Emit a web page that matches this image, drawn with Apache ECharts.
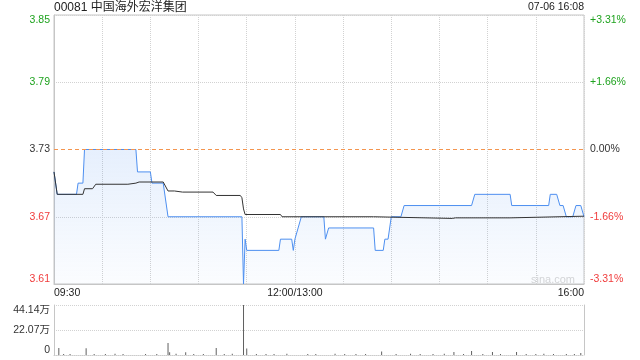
<!DOCTYPE html>
<html><head><meta charset="utf-8">
<script src="https://cdn.jsdelivr.net/npm/echarts@6/dist/echarts.min.js"></script>
<style>html,body{margin:0;padding:0;background:#fff}#c{width:640px;height:360px}</style>
</head><body><div id="c"></div>
<script>
// ---- data ----
const stockTitle = '00081 中国海外宏洋集团';
const stampText = '07-06 16:08';
const prevClose = 3.73;
const sessionTimes = ['09:30','16:00'];
const priceTimes = ['09:30','09:32','09:44','09:45','09:48','09:49','10:21','10:22','10:30','10:31','10:38','10:41','11:27','11:28','11:29','11:30','11:50','11:51','11:58','11:59','12:00','13:02','13:04','13:18','13:19','13:21','13:49','13:50','13:55','13:56','13:58','14:00','14:06','14:08','14:50','14:52','15:14','15:15','15:38','15:39','15:43','15:45','15:47','15:49','15:53','15:55','15:58','16:00'];
const priceValues = [3.71,3.69,3.69,3.70,3.70,3.73,3.73,3.71,3.71,3.70,3.70,3.67,3.67,3.61,3.65,3.64,3.64,3.65,3.65,3.64,3.65,3.66,3.67,3.67,3.65,3.66,3.66,3.64,3.64,3.65,3.65,3.67,3.67,3.68,3.68,3.69,3.69,3.68,3.68,3.69,3.69,3.68,3.68,3.67,3.67,3.68,3.68,3.67];
const avgTimes = ['09:30','09:32','09:48','09:49','09:54','09:56','10:16','10:17','10:21','10:23','10:38','10:41','10:45','10:50','11:09','11:11','11:26','11:27','11:28','11:29','11:51','11:52','13:49','13:50','14:38','14:40','15:14','15:15','16:00'];
const avgValues = [3.71,3.690,3.690,3.695,3.695,3.699,3.699,3.700,3.700,3.701,3.701,3.693,3.693,3.692,3.692,3.689,3.689,3.687,3.677,3.672,3.672,3.670,3.670,3.6685,3.6685,3.669,3.669,3.6705,3.6705];
const volTimes = ['09:33','09:36','09:40','09:50','09:55','10:02','10:08','10:13','10:27','10:34','10:41','10:42','10:46','10:52','10:57','11:03','11:11','11:16','11:21','11:28','11:30','11:36','11:42','11:47','11:55','13:08','13:13','13:25','13:31','13:38','13:44','13:54','14:03','14:12','14:18','14:26','14:33','14:39','14:45','14:50','14:57','15:03','15:08','15:18','15:24','15:30','15:35','15:41','15:49','15:54','15:58'];
const volValues = [62000,9000,8000,59000,9000,8000,10000,9000,8000,9000,107000,25000,10000,25000,8000,9000,62000,9000,10000,441400,58000,9000,8000,9000,10000,9000,8000,10000,9000,8000,9000,32000,9000,10000,8000,9000,10000,27000,9000,36000,9000,27000,9000,27000,8000,9000,10000,9000,8000,9000,18000];
const priceTickLabels = ['3.61','3.67','3.73','3.79','3.85'];
const pctTickLabels = ['-3.31%','-1.66%','0.00%','+1.66%','+3.31%'];
const volTickLabels = ['0','22.07万','44.14万'];
const timeTickTimes = ['09:30','12:00','16:00'];
const timeTickLabels = ['09:30','12:00/13:00','16:00'];

// ---- helpers ----
function toIdx(t){const p=t.split(':').map(Number);const m=p[0]*60+p[1];return m<=720?m-570:m-780+150;}
const FONT='"Liberation Sans", Arial, "Noto Sans CJK SC", sans-serif';
const GREEN='#1fa31f', RED='#f03c3c', DARK='#333333';
const labelColors=[RED,RED,DARK,GREEN,GREEN];
const GRID='#d2d2d2', BORDER='#c6c6c6';
const volMax=441400;

const chart=echarts.init(document.getElementById('c'));
chart.setOption({
  animation:false,
  grid:[
    {left:54,right:56,top:15,height:269,show:true,borderColor:BORDER,borderWidth:1,backgroundColor:'transparent'},
    {left:54,right:56,top:305,height:50}
  ],
  xAxis:[
    {type:'value',gridIndex:0,min:0,max:330,interval:30,
     axisLine:{show:true,lineStyle:{color:BORDER}},axisTick:{show:false},
     splitLine:{show:true,lineStyle:{color:GRID,type:'dotted'}},
     axisLabel:{show:true,showMinLabel:true,showMaxLabel:true,hideOverlap:false,
       formatter:function(v){const i=timeTickTimes.map(toIdx).indexOf(Number(v));return i>=0?timeTickLabels[i]:'';},
       color:'#222',fontSize:10.5,fontFamily:FONT,margin:4,alignMinLabel:'left',alignMaxLabel:'right'}},
    {type:'value',gridIndex:1,min:0,max:330,
     axisLine:{show:true,lineStyle:{color:'#cccccc',type:'dotted'}},axisTick:{show:false},
     axisLabel:{show:false},splitLine:{show:false}}
  ],
  yAxis:[
    {type:'value',gridIndex:0,min:3.61,max:3.85,show:false,splitLine:{show:false}},
    {type:'value',gridIndex:0,min:0,max:4,interval:1,position:'left',
     axisLine:{show:true,lineStyle:{color:BORDER}},axisTick:{show:false},
     splitLine:{show:true,lineStyle:{color:[GRID,GRID,'rgba(255,255,255,0)',GRID,GRID],type:'dotted'}},
     axisLabel:{formatter:function(v){return priceTickLabels[Math.round(Number(v))];},
       color:function(v){return labelColors[Math.round(Number(v))];},
       fontSize:10.5,fontFamily:FONT,margin:4,verticalAlignMinLabel:'bottom',verticalAlignMaxLabel:'top'}},
    {type:'value',gridIndex:0,min:0,max:4,interval:1,position:'right',
     axisLine:{show:false},axisTick:{show:false},splitLine:{show:false},
     axisLabel:{formatter:function(v){return pctTickLabels[Math.round(Number(v))];},
       color:function(v){return labelColors[Math.round(Number(v))];},
       fontSize:10.5,fontFamily:FONT,margin:6,verticalAlignMinLabel:'bottom',verticalAlignMaxLabel:'top'}},
    {type:'value',gridIndex:1,min:0,max:volMax,interval:volMax/2,position:'left',
     axisLine:{show:true,lineStyle:{color:BORDER}},axisTick:{show:false},
     splitLine:{show:true,lineStyle:{color:GRID,type:'dotted'}},
     axisLabel:{formatter:function(v){return volTickLabels[Math.round(Number(v)/(volMax/2))];},
       color:DARK,fontSize:10.5,fontFamily:FONT,margin:4,verticalAlignMinLabel:'bottom',verticalAlignMaxLabel:'top'}},
    {type:'value',gridIndex:1,min:0,max:volMax,position:'right',
     axisLine:{show:true,lineStyle:{color:BORDER}},axisTick:{show:false},
     splitLine:{show:false},axisLabel:{show:false}}
  ],
  series:[
    {type:'line',name:'prevClose',xAxisIndex:0,yAxisIndex:0,showSymbol:false,z:5,silent:true,
     data:sessionTimes.map(function(t){return [toIdx(t),prevClose];}),
     lineStyle:{color:'#f4954f',type:[4,3],width:1,opacity:1}},
    {type:'line',name:'price',xAxisIndex:0,yAxisIndex:0,showSymbol:false,z:3,
     data:priceTimes.map(function(t,i){return [toIdx(t),priceValues[i]];}),
     lineStyle:{color:'#4d8ff0',width:1},
     areaStyle:{color:new echarts.graphic.LinearGradient(0,0,0,1,[{offset:0,color:'rgba(77,143,240,0.2)'},{offset:1,color:'rgba(77,143,240,0.03)'}])}},
    {type:'line',name:'avg',xAxisIndex:0,yAxisIndex:0,showSymbol:false,z:4,
     data:avgTimes.map(function(t,i){return [toIdx(t),avgValues[i]];}),
     lineStyle:{color:'#333333',width:1}},
    {type:'bar',name:'vol',xAxisIndex:1,yAxisIndex:3,barWidth:1,
     data:volTimes.map(function(t,i){return [toIdx(t),volValues[i]];}),
     itemStyle:{color:'#606060'}}
  ],
  graphic:[
    {type:'text',x:54,y:7.5,style:{text:stockTitle,fill:'#222',fontSize:12,fontFamily:FONT,align:'left',verticalAlign:'middle'}},
    {type:'text',x:584,y:7.5,style:{text:stampText,fill:'#222',fontSize:10.5,fontFamily:FONT,align:'right',verticalAlign:'middle'}},
    {type:'text',x:553,y:280,z:1,style:{text:'sina.com',fill:'#d6d6d6',fontSize:11,fontFamily:FONT,align:'center',verticalAlign:'middle'}}
  ]
});
</script></body></html>
